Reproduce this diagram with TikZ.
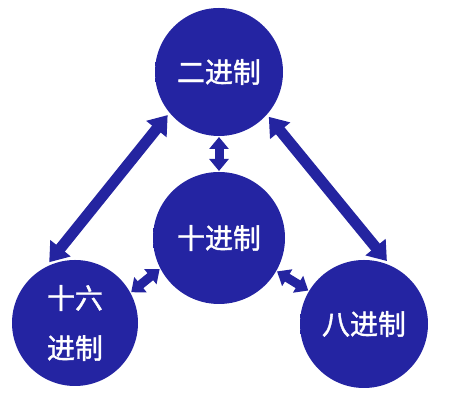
\documentclass[tikz,border=0pt]{standalone}
\usepackage{fontspec}
\usepackage{xcolor}
\usepackage{tikz}
\usetikzlibrary{positioning,calc,arrows.meta}
\newfontfamily\cjk[FakeBold=1.4]{Noto Sans CJK SC}
\definecolor{ballmid}{RGB}{36,36,162}
\definecolor{balledge}{RGB}{26,26,122}
\definecolor{ballrim}{RGB}{110,110,215}
\definecolor{arrowblue}{RGB}{36,36,160}
\pgfdeclareradialshading{ballshade}{\pgfpoint{0bp}{12bp}}{
	color(0bp)=(ballmid); color(30bp)=(ballmid); color(45bp)=(balledge);
	color(48.5bp)=(ballrim); color(50bp)=(balledge)}

\begin{document}
\begin{tikzpicture}[x=1pt, y=1pt,
					ball/.style={
						circle, shading=ballshade, text=white,
						minimum size=128pt, inner sep=0pt, outer sep=3pt,
						font=\cjk\fontsize{28}{50}\selectfont, align=center
					},
					bigarrow/.style={
						draw=arrowblue, line width=11pt,
						{Triangle[width=25pt,length=18pt]}-{Triangle[width=25pt,length=18pt]}
					},
					smallarrow/.style={
						draw=arrowblue, line width=9pt, shorten <=-2pt, shorten >=-2pt,
						{Triangle[width=19pt,length=12pt]}-{Triangle[width=19pt,length=12pt]}
					}
					]
					\useasboundingbox (0,0) rectangle (453,406);
					% vier Kreise
					\node[ball] (bin) at (219, 334) {二进制};
					\node[ball, minimum size=132pt] (dec) at (219, 168) {十进制};
					\node[ball, minimum size=126pt] (hex) at (75, 83) {十六\\进制};
					\node[ball] (oct) at (364, 82) {八进制};
					
					% Pfeile
					\draw[bigarrow] (bin.220) -- (hex.113);
					\draw[bigarrow] (bin.318) -- (oct.70);
					\draw[smallarrow] (bin.south) -- (dec.north);
					\draw[smallarrow] (dec.208) -- (hex.29);
					\draw[smallarrow] (dec.330) -- (oct.149);
				\end{tikzpicture}
\end{document}
